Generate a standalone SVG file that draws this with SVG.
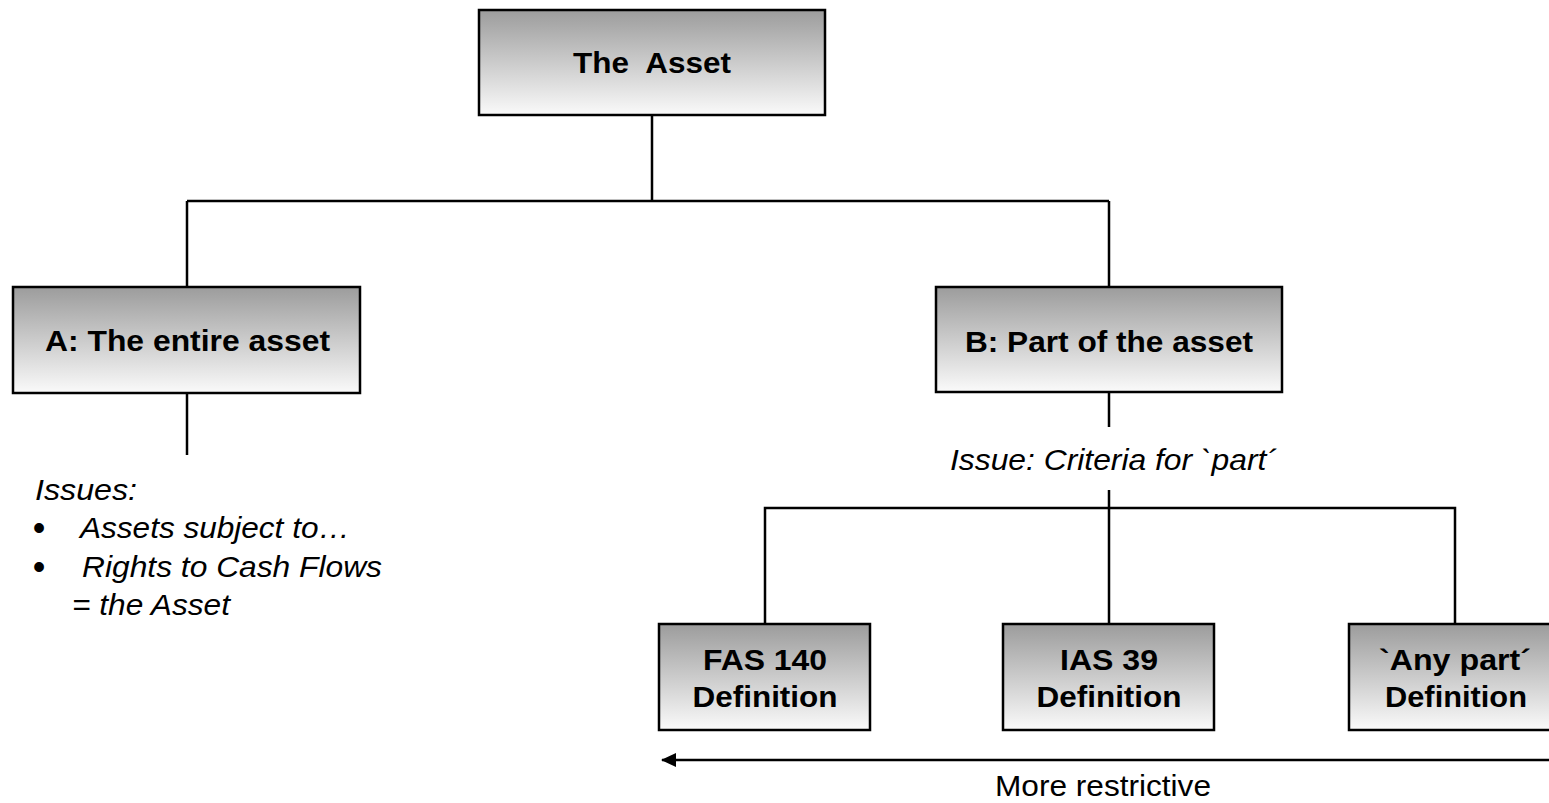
<svg xmlns="http://www.w3.org/2000/svg" width="1549" height="803" viewBox="0 0 1549 803">
<defs>
<linearGradient id="g" x1="0" y1="0" x2="0" y2="1">
<stop offset="0" stop-color="#9c9c9c"/>
<stop offset="1" stop-color="#fafafa"/>
</linearGradient>
<marker id="ah" markerWidth="16" markerHeight="16" refX="14" refY="7" orient="auto" markerUnits="userSpaceOnUse">
<path d="M0,0 L15,7 L0,14 Z" fill="#000"/>
</marker>
</defs>
<style>
.box{fill:url(#g);stroke:#000;stroke-width:2.5}
.b{font-family:"Liberation Sans",Arial,sans-serif;font-weight:bold;font-size:30px;fill:#000;text-anchor:middle;white-space:pre}
.i{font-family:"Liberation Sans",Arial,sans-serif;font-style:italic;font-size:30px;fill:#000;white-space:pre}
.r{font-family:"Liberation Sans",Arial,sans-serif;font-size:30px;fill:#000;text-anchor:middle}
.bul{font-family:"Liberation Sans",Arial,sans-serif;font-size:36px;fill:#000;text-anchor:middle}
.c{fill:none;stroke:#000;stroke-width:2.5}
</style>
<g id="connectors">
<path class="c" d="M652,115 V201 M187,201 H1109 M187,201 V287 M1109,201 V287"/>
<path class="c" d="M187,393 V455"/>
<path class="c" d="M1109,392 V427 M1109,490 V508"/>
<path class="c" d="M765,624 V508 H1455 V624 M1109,508 V624"/>
<path class="c" d="M1549,760 H662" marker-end="url(#ah)"/>
</g>
<g id="node-asset">
<rect class="box" x="479" y="10" width="346" height="105"/>
<text class="b" x="652" y="73" textLength="158" lengthAdjust="spacingAndGlyphs">The  Asset</text>
</g>
<g id="node-a">
<rect class="box" x="13" y="287" width="347" height="106"/>
<text class="b" x="187.5" y="351" textLength="285" lengthAdjust="spacingAndGlyphs">A: The entire asset</text>
</g>
<g id="node-b">
<rect class="box" x="936" y="287" width="346" height="105"/>
<text class="b" x="1109" y="352" textLength="288" lengthAdjust="spacingAndGlyphs">B: Part of the asset</text>
</g>
<g id="issues-a">
<text class="i" x="35" y="500" textLength="102" lengthAdjust="spacingAndGlyphs">Issues:</text>
<text class="bul" x="39" y="540">•</text>
<text class="i" x="80" y="538" textLength="270" lengthAdjust="spacingAndGlyphs">Assets subject to…</text>
<text class="bul" x="39" y="579">•</text>
<text class="i" x="82" y="577" textLength="300" lengthAdjust="spacingAndGlyphs">Rights to Cash Flows</text>
<text class="i" x="72" y="615" textLength="158" lengthAdjust="spacingAndGlyphs">= the Asset</text>
</g>
<g id="issue-b">
<text class="i" x="950" y="470" textLength="327" lengthAdjust="spacingAndGlyphs">Issue: Criteria for `part´</text>
</g>
<g id="node-fas">
<rect class="box" x="659" y="624" width="211" height="106"/>
<text class="b" x="765" y="670" textLength="124" lengthAdjust="spacingAndGlyphs">FAS 140</text>
<text class="b" x="765" y="707" textLength="145" lengthAdjust="spacingAndGlyphs">Definition</text>
</g>
<g id="node-ias">
<rect class="box" x="1003" y="624" width="211" height="106"/>
<text class="b" x="1109" y="670" textLength="98" lengthAdjust="spacingAndGlyphs">IAS 39</text>
<text class="b" x="1109" y="707" textLength="145" lengthAdjust="spacingAndGlyphs">Definition</text>
</g>
<g id="node-any">
<rect class="box" x="1349" y="624" width="211" height="106"/>
<text class="b" x="1455" y="670" textLength="152" lengthAdjust="spacingAndGlyphs">`Any part´</text>
<text class="b" x="1456" y="707" textLength="142" lengthAdjust="spacingAndGlyphs">Definition</text>
</g>
<g id="label-restrictive">
<text class="r" x="1103" y="796" textLength="216" lengthAdjust="spacingAndGlyphs">More restrictive</text>
</g>
</svg>
